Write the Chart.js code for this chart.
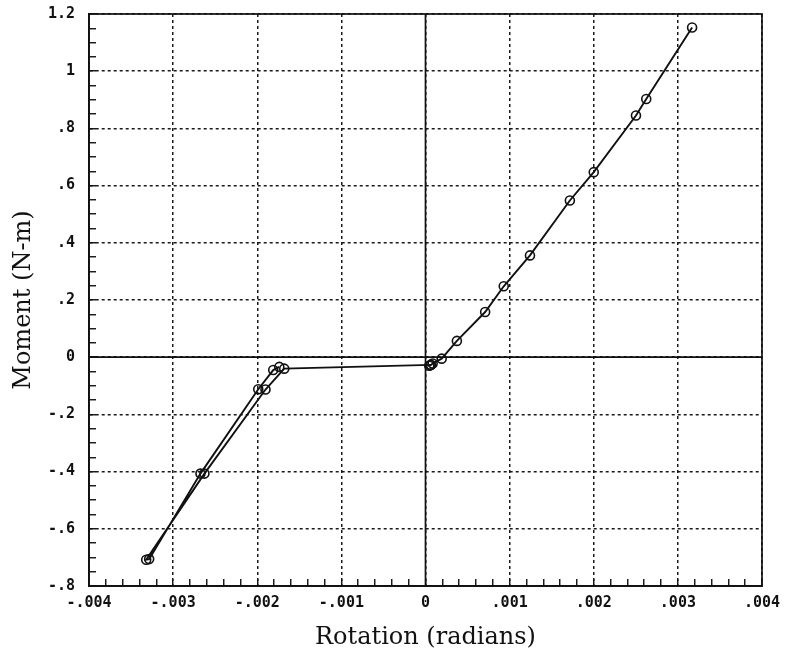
<!DOCTYPE html>
<html>
<head>
<meta charset="utf-8">
<script src="https://cdn.jsdelivr.net/npm/chart.js@4.4.1/dist/chart.umd.min.js"></script>
<style>
  body { margin: 0; background: #fff; }
</style>
</head>
<body>
<canvas id="myChart" width="785" height="655"></canvas>
<script>
// positive rotation branch, from the origin up to the peak
const rightRot = [0.000045, 0.000065, 0.000085, 0.000192, 0.000373, 0.000709, 0.000930, 0.001242, 0.001716, 0.002000, 0.002502, 0.002624, 0.003169];
const rightMom = [-0.030, -0.027, -0.022, -0.005, 0.057, 0.158, 0.248, 0.356, 0.548, 0.647, 0.845, 0.903, 1.153];

// flat part then the negative loop (down and back up)
const leftRot = [0.000060, -0.001679, -0.001902, -0.002628, -0.003320, -0.003285, -0.002675, -0.001988, -0.001810, -0.001738];
const leftMom = [-0.027, -0.040, -0.113, -0.407, -0.708, -0.706, -0.407, -0.112, -0.045, -0.034];

const xMajor = [-0.004, -0.003, -0.002, -0.001, 0, 0.001, 0.002, 0.003, 0.004];
const xLabels = ["-.004", "-.003", "-.002", "-.001", "0", ".001", ".002", ".003", ".004"];
const yMajor = [-0.8, -0.6, -0.4, -0.2, 0, 0.2, 0.4, 0.6, 0.8, 1, 1.2];
const yLabels = ["-.8", "-.6", "-.4", "-.2", "0", ".2", ".4", ".6", ".8", "1", "1.2"];

const toPoints = (xs, ys) => xs.map((x, i) => ({ x: x, y: ys[i] }));
const majorIndex = (list, v) => list.findIndex((m) => Math.abs(m - v) < 1e-9);

const tickFont = { family: "DejaVu Sans Mono", size: 15, weight: "bold" };
const titleFont = { family: "DejaVu Serif", size: 24 };

// solid zero lines and the top/right frame
const frameLines = {
  id: "frameLines",
  beforeDatasetsDraw(chart) {
    const { ctx, chartArea: a, scales } = chart;
    const x0 = scales.x.getPixelForValue(0);
    const y0 = scales.y.getPixelForValue(0);
    ctx.save();
    ctx.strokeStyle = "#111";
    ctx.lineWidth = 1.7;
    ctx.beginPath();
    ctx.moveTo(x0, a.top);
    ctx.lineTo(x0, a.bottom);
    ctx.moveTo(a.left, y0);
    ctx.lineTo(a.right, y0);
    ctx.stroke();
    ctx.strokeRect(a.left, a.top, a.right - a.left, a.bottom - a.top);
    ctx.restore();
  },
};

const lineStyle = {
  showLine: true,
  borderColor: "#111",
  borderWidth: 1.9,
  tension: 0,
  pointRadius: 4.5,
  pointBorderWidth: 1.6,
  pointBorderColor: "#111",
  pointBackgroundColor: "rgba(0,0,0,0)",
};

const config = {
  type: "scatter",
  data: {
    datasets: [
      { label: "positive", data: toPoints(rightRot, rightMom), ...lineStyle },
      { label: "negative", data: toPoints(leftRot, leftMom), ...lineStyle },
    ],
  },
  options: {
    responsive: false,
    animation: false,
    devicePixelRatio: 1,
    layout: { padding: { top: 14, right: 23, left: 0, bottom: 0 } },
    plugins: {
      legend: { display: false },
      tooltip: { enabled: false },
    },
    scales: {
      x: {
        type: "linear",
        min: -0.004,
        max: 0.004,
        afterFit: (s) => {
          s.height = 69;
          s.paddingLeft = 0;
          s.paddingRight = 0;
        },
        ticks: {
          stepSize: 0.0002,
          maxTicksLimit: 100,
          autoSkip: false,
          minRotation: 0,
          maxRotation: 0,
          padding: 15,
          color: "#111",
          font: tickFont,
          callback: (v) => {
            const i = majorIndex(xMajor, v);
            return i < 0 ? "" : xLabels[i];
          },
        },
        grid: {
          color: (c) => (c.tick && majorIndex(xMajor, c.tick.value) >= 0 ? "#1a1a1a" : "rgba(0,0,0,0)"),
          lineWidth: 1.5,
          tickColor: "#111",
          tickWidth: 1.4,
          tickLength: -7,
        },
        border: { display: true, color: "#111", width: 1.7, dash: [3, 3] },
        title: {
          display: true,
          text: "Rotation (radians)",
          color: "#111",
          font: titleFont,
          padding: { top: 0, bottom: 3 },
        },
      },
      y: {
        type: "linear",
        min: -0.8,
        max: 1.2,
        afterFit: (s) => {
          s.width = 89;
          s.paddingTop = 0;
          s.paddingBottom = 0;
        },
        ticks: {
          stepSize: 0.05,
          maxTicksLimit: 100,
          autoSkip: false,
          padding: 21,
          color: "#111",
          font: tickFont,
          callback: (v) => {
            const i = majorIndex(yMajor, v);
            return i < 0 ? "" : yLabels[i];
          },
        },
        grid: {
          color: (c) => (c.tick && majorIndex(yMajor, c.tick.value) >= 0 ? "#1a1a1a" : "rgba(0,0,0,0)"),
          lineWidth: 1.5,
          tickColor: "#111",
          tickWidth: 1.4,
          tickLength: -7,
        },
        border: { display: true, color: "#111", width: 1.7, dash: [3, 3] },
        title: {
          display: true,
          text: "Moment (N-m)",
          color: "#111",
          font: titleFont,
          padding: { top: 9, bottom: 0 },
        },
      },
    },
  },
  plugins: [frameLines],
};

const ctx = document.getElementById("myChart").getContext("2d");
new Chart(ctx, config);
</script>
</body>
</html>
